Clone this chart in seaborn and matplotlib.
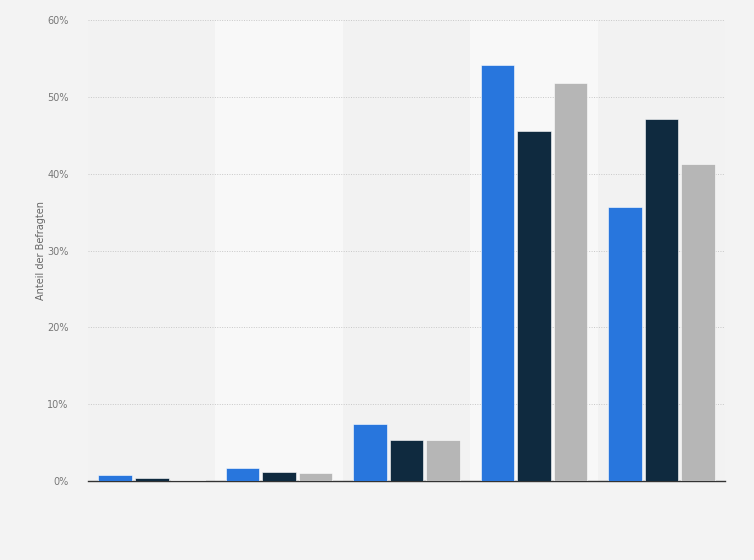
import pandas as pd
import matplotlib
matplotlib.use("Agg")
import matplotlib.pyplot as plt
import seaborn as sns
from matplotlib.ticker import FuncFormatter

# Werte (Anteil der Befragten in %)
categories = ["Kategorie 1", "Kategorie 2", "Kategorie 3", "Kategorie 4", "Kategorie 5"]
series = ["Gruppe A", "Gruppe B", "Gruppe C"]
values_a = [0.8, 1.7, 7.4, 54.2, 35.7]
values_b = [0.45, 1.2, 5.4, 45.6, 47.1]
values_c = [0.2, 1.0, 5.3, 51.8, 41.3]
colors = ["#2876dd", "#0f2a3f", "#b6b6b6"]

df = pd.DataFrame({
    "Kategorie": categories * 3,
    "Serie": [s for s in series for _ in categories],
    "Wert": values_a + values_b + values_c,
})

sns.set_theme(style="white")
plt.rcParams["font.family"] = ["DejaVu Sans"]

fig = plt.figure(figsize=(7.54, 5.6), dpi=100)
fig.patch.set_facecolor("#f3f3f3")
ax = fig.add_axes([0.1167, 0.141, 0.845, 0.823])
ax.set_facecolor("#f2f2f2")

# helle Hintergrundstreifen für jede zweite Kategorie
for i in range(1, len(categories), 2):
    ax.axvspan(i - 0.5, i + 0.5, color="#f8f8f8", zorder=0, lw=0)

sns.barplot(data=df, x="Kategorie", y="Wert", hue="Serie", palette=colors,
            saturation=1, width=0.86, gap=0.08, edgecolor="white", linewidth=0.4,
            legend=False, ax=ax, zorder=3)

ax.set_xlim(-0.5, len(categories) - 0.5)
ax.set_ylim(0, 60)
ax.set_yticks(range(0, 61, 10))
ax.yaxis.set_major_formatter(FuncFormatter(lambda v, p: f"{v:.0f}%"))
ax.grid(axis="y", color="#c8c8c8", linestyle=(0, (1, 1.5)), linewidth=0.7, zorder=1)
ax.set_axisbelow(True)

ax.set_xticks([])
ax.set_xlabel("")
ax.set_ylabel("Anteil der Befragten", fontsize=7, color="#666666")
ax.yaxis.set_label_coords(-0.066, 0.5)
ax.tick_params(axis="y", length=0, labelsize=7, labelcolor="#777777", pad=14)

for side in ["top", "right", "left"]:
    ax.spines[side].set_visible(False)
ax.spines["bottom"].set_color("#333333")
ax.spines["bottom"].set_linewidth(1.0)

fig.savefig("out.png", dpi=100, facecolor=fig.get_facecolor())
